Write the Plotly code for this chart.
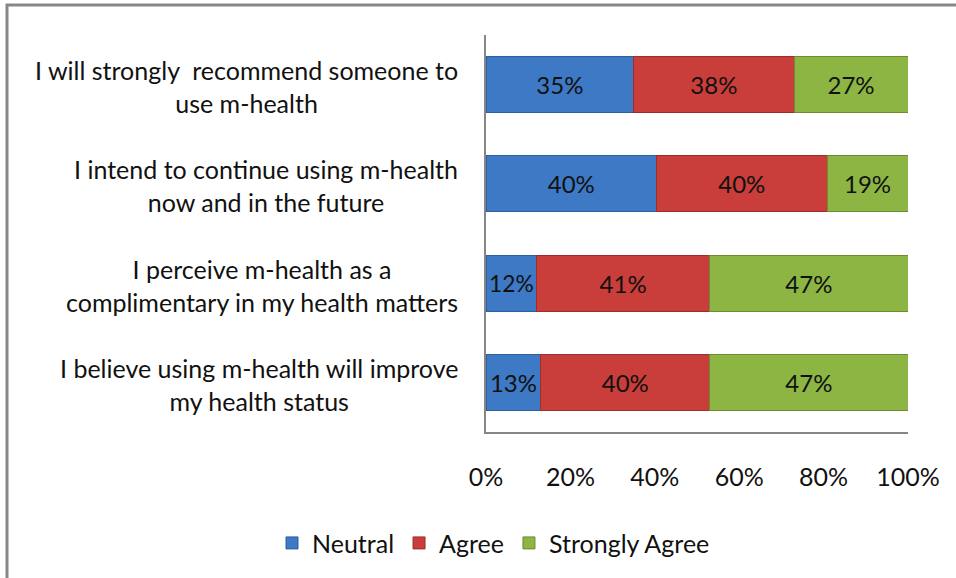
import plotly.graph_objects as go

# Survey statements (top to bottom) and response shares in percent
statements = [
    ["I will strongly  recommend someone to", "use m-health"],
    ["I intend to continue using m-health", "now and in the future"],
    ["I perceive m-health as a", "complimentary in my health matters"],
    ["I believe using m-health will improve", "my health status"],
]
categories = [" ".join(s) for s in statements]

neutral = [35, 40, 12, 13]
agree = [38, 40, 41, 40]
strongly_agree = [27, 19, 47, 47]

series_names = ["Neutral", "Agree", "Strongly Agree"]
series_values = [neutral, agree, strongly_agree]
series_colors = ["#3D79C4", "#C93D3A", "#8DB544"]
series_edges = ["#2E5F9E", "#9E2E2C", "#6C8C32"]

x_ticks = [0, 20, 40, 60, 80, 100]
x_tick_text = ["0%", "20%", "40%", "60%", "80%", "100%"]

FONT = "Lato"
FS = 25
TXT = "#111111"

fig = go.Figure()
for name, vals, col, edge in zip(series_names, series_values, series_colors, series_edges):
    fig.add_trace(go.Bar(
        y=categories,
        x=vals,
        name=name,
        orientation="h",
        marker=dict(color=col, line=dict(color=edge, width=1)),
        text=[f"{v}%" for v in vals],
        textposition="inside",
        insidetextanchor="middle",
        textfont=dict(family=FONT, size=24, color=TXT),
        textangle=0,
    ))

# Category labels: two centred lines, block right-aligned against the axis
annotations = []
for i, lines in enumerate(statements):
    annotations.append(dict(
        x=-0.061, xref="paper", xanchor="right",
        y=i, yref="y", yanchor="middle", yshift=-2,
        text="<br>".join(lines), showarrow=False, align="center",
        font=dict(family=FONT, size=FS, color=TXT),
    ))

fig.update_layout(
    width=956, height=578,
    margin=dict(l=486, r=48, t=35, b=146, autoexpand=False),
    barmode="stack",
    barnorm="percent",
    bargap=0.435,
    plot_bgcolor="white",
    paper_bgcolor="white",
    showlegend=True,
    legend=dict(
        orientation="h", x=(272 - 486) / 422, xanchor="left",
        y=-0.28, yanchor="middle",
        traceorder="normal",
        font=dict(family=FONT, size=FS, color=TXT),
        itemwidth=30, tracegroupgap=0,
    ),
    xaxis=dict(
        range=[0, 100], tickvals=x_ticks, ticktext=x_tick_text,
        showgrid=False, zeroline=False, showline=True,
        linecolor="#868686", linewidth=2, ticks="",
        tickfont=dict(family=FONT, size=FS, color=TXT),
        ticklabelstandoff=22,
    ),
    yaxis=dict(
        autorange="reversed", showticklabels=False, showgrid=False,
        showline=True, linecolor="#868686", linewidth=2, ticks="",
        zeroline=False,
    ),
    annotations=annotations,
    shapes=[dict(
        type="rect", xref="paper", yref="paper",
        x0=(7 - 486) / 422, x1=3.0, y0=-3.0, y1=(432 - 5) / 397,
        line=dict(color="#878787", width=3), fillcolor="rgba(0,0,0,0)",
        layer="below",
    )],
)

fig.write_html("out.html")
